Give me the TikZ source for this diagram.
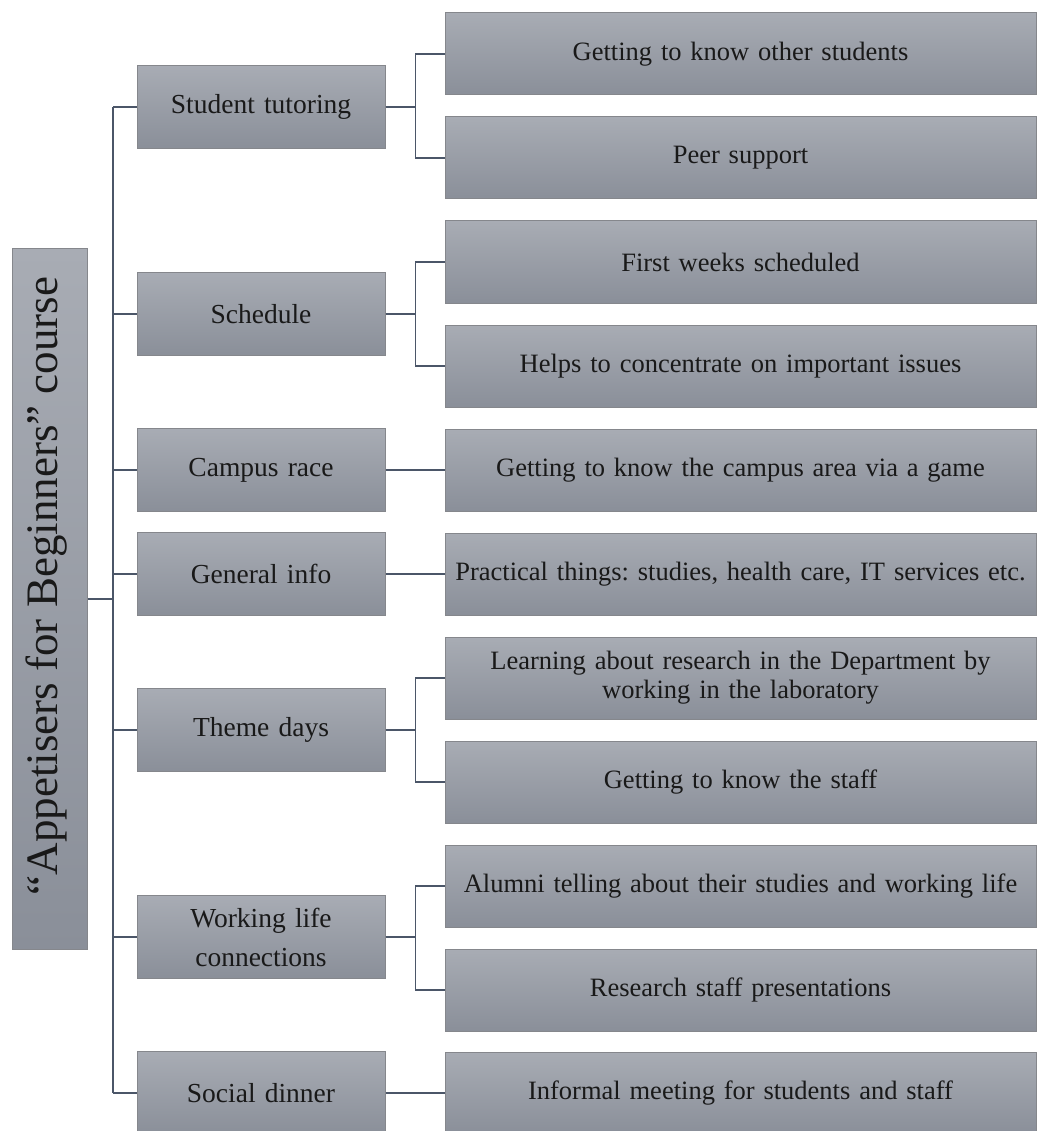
\documentclass[tikz,border=0pt]{standalone}
\usepackage{fontspec}
\setmainfont{Liberation Serif}
\usetikzlibrary{positioning}

\definecolor{boxtop}{HTML}{A8ACB4}
\definecolor{boxbot}{HTML}{8A8F99}
\definecolor{boxline}{HTML}{85878C}
\definecolor{linkcol}{HTML}{4B5668}

\tikzset{
  box/.style={draw=boxline, line width=1pt, top color=boxtop, bottom color=boxbot,
    inner sep=2pt, align=center, text=black!90},
  topic/.style={box, minimum width=248pt, minimum height=83pt, text width=244pt,
    font=\fontsize{27.5}{31}\selectfont\frenchspacing},
  detail/.style={box, minimum width=591pt, minimum height=82pt, text width=587pt,
    font=\fontsize{26.5}{29}\selectfont\frenchspacing},
  link/.style={draw=linkcol, line width=1.6pt}
}

\begin{document}
\begin{tikzpicture}[x=1pt, y=-1pt]
\useasboundingbox (0,0) rectangle (1037,1131);

\node[box, minimum width=75pt, minimum height=700pt] (root) at (49.5, 599) {};
\node[rotate=90, text=black!90, font=\fontsize{45}{48}\selectfont] (title) at (47, 586) {“Appetisers for Beginners” course};

\node[topic] (tutor) at (261, 107) {Student tutoring};
\node[topic] (sched) at (261, 314) {Schedule};
\node[topic] (race) at (261, 470) {Campus race};
\node[topic] (info) at (261, 574) {General info};
\node[topic] (theme) at (261, 730) {Theme days};
\node[topic] (work) at (261, 937) {Working life\\[8pt]connections};
\node[topic] (dinner) at (261, 1093) {Social dinner};

\node[detail] (other) at (740.5, 54) {Getting to know other students};
\node[detail] (peer) at (740.5, 158) {Peer support};
\node[detail] (weeks) at (740.5, 262) {First weeks scheduled};
\node[detail] (focus) at (740.5, 366) {Helps to concentrate on important issues};
\node[detail] (area) at (740.5, 470) {Getting to know the campus area via a game};
\node[detail] (pract) at (740.5, 574) {Practical things: studies, health care, IT services etc.};
\node[detail] (lab) at (740.5, 678) {Learning about research in the Department by\\working in the laboratory};
\node[detail] (staff) at (740.5, 782) {Getting to know the staff};
\node[detail] (alumni) at (740.5, 886) {Alumni telling about their studies and working life};
\node[detail] (pres) at (740.5, 990) {Research staff presentations};
\node[detail] (meet) at (740.5, 1093) {Informal meeting for students and staff};

% trunk
\coordinate (hub) at (113, 599);
\draw[link] (root.east) -- (hub);
\draw[link] (hub |- tutor.west) -- (hub |- dinner.west);
\foreach \t in {tutor, sched, race, info, theme, work, dinner}
  \draw[link] (hub |- \t.west) -- (\t.west);

% branches
\draw[link] (tutor.east) -- ++(30,0) |- (other.west);
\draw[link] (tutor.east) -- ++(30,0) |- (peer.west);
\draw[link] (sched.east) -- ++(30,0) |- (weeks.west);
\draw[link] (sched.east) -- ++(30,0) |- (focus.west);
\draw[link] (race.east) -- (area.west);
\draw[link] (info.east) -- (pract.west);
\draw[link] (theme.east) -- ++(30,0) |- (lab.west);
\draw[link] (theme.east) -- ++(30,0) |- (staff.west);
\draw[link] (work.east) -- ++(30,0) |- (alumni.west);
\draw[link] (work.east) -- ++(30,0) |- (pres.west);
\draw[link] (dinner.east) -- (meet.west);
\end{tikzpicture}
\end{document}
